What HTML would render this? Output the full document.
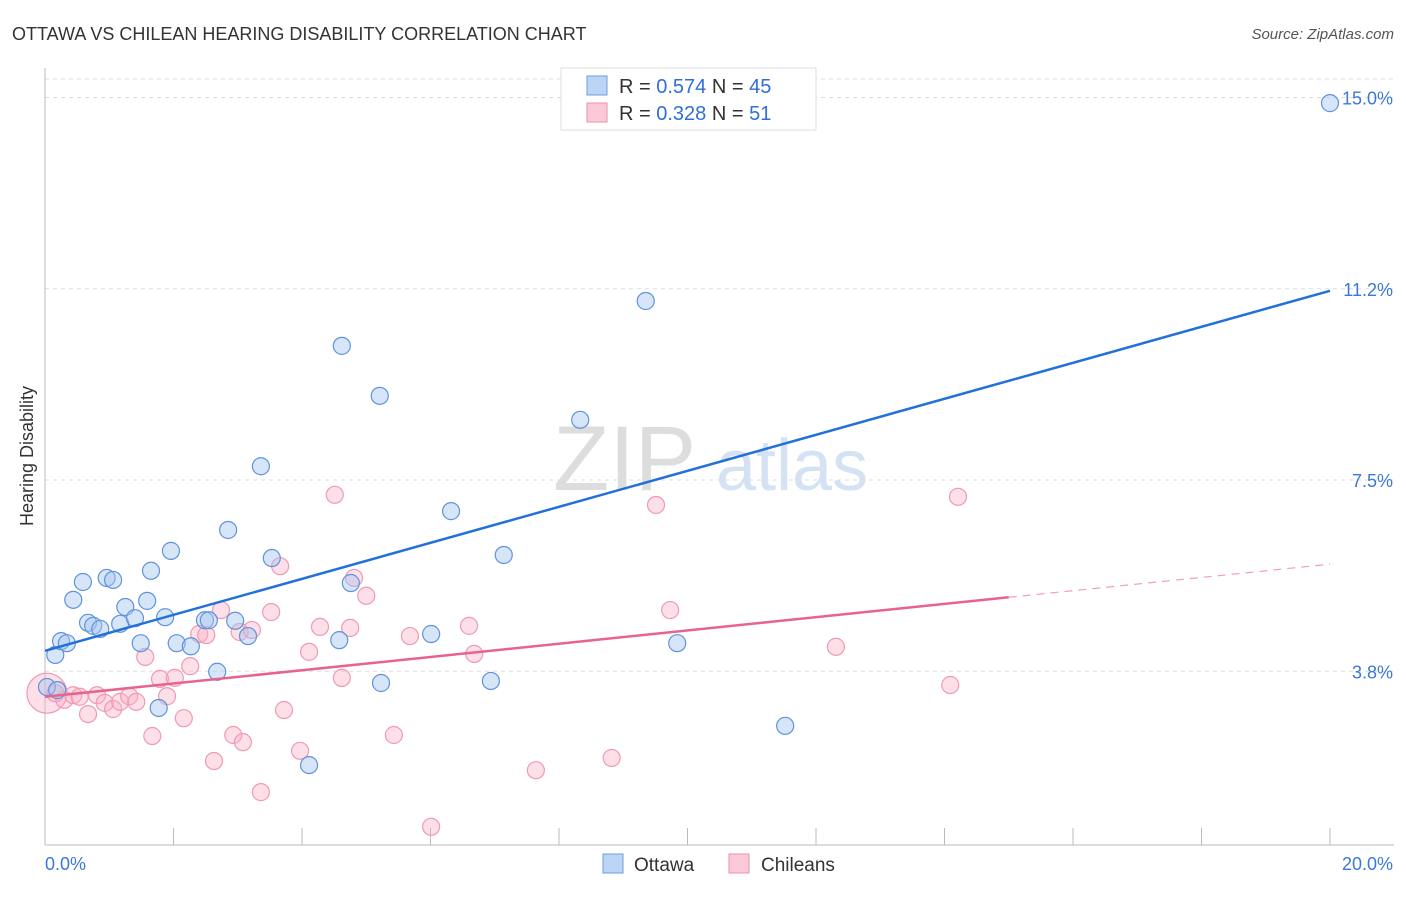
<!DOCTYPE html>
<html><head><meta charset="utf-8"><style>
body{margin:0;background:#fff;font-family:"Liberation Sans",sans-serif;}
svg text{font-family:"Liberation Sans",sans-serif;}
</style></head><body>
<svg id="chart" width="1406" height="892" viewBox="0 0 1406 892">
<text x="12" y="40" font-size="18" fill="#333">OTTAWA VS CHILEAN HEARING DISABILITY CORRELATION CHART</text>
<text x="1394" y="39" font-size="15" fill="#555" text-anchor="end" font-style="italic">Source: ZipAtlas.com</text>
<g>
<text x="553" y="490" font-size="92" fill="#ddd" font-family="Liberation Serif,serif">ZIP</text>
<text x="716" y="490" font-size="72" fill="#d4e2f3">atlas</text>
</g>
<g id="grid"></g>
<line x1="45" y1="68" x2="45" y2="845" stroke="#bbb"/>
<line x1="45" y1="845" x2="1394" y2="845" stroke="#bbb"/>
<g id="xticks"></g>
<text transform="translate(33,456) rotate(-90)" font-size="18" fill="#333" text-anchor="middle">Hearing Disability</text>
<text x="45" y="870" font-size="18" fill="#3b78d8">0.0%</text>
<text x="1393" y="870" font-size="18" fill="#3b78d8" text-anchor="end">20.0%</text>
<g id="points"></g>
<g id="lines"></g>
<g>
<rect x="561" y="68" width="255" height="62" fill="#fff" stroke="#ddd"/>
<rect x="587" y="76" width="20" height="19" fill="#bcd5f5" stroke="#6a9ee0"/>
<rect x="587" y="103" width="20" height="19" fill="#fcc9d8" stroke="#ec8fab"/>
<text x="619" y="93" font-size="20" fill="#333">R = <tspan fill="#2f6fd6">0.574</tspan>   N = <tspan fill="#2f6fd6">45</tspan></text>
<text x="619" y="120" font-size="20" fill="#333">R = <tspan fill="#2f6fd6">0.328</tspan>   N =  <tspan fill="#2f6fd6">51</tspan></text>
</g>
<g>
<rect x="603" y="854" width="20" height="19" fill="#bcd5f5" stroke="#6a9ee0"/>
<text x="634" y="871" font-size="19" fill="#333">Ottawa</text>
<rect x="729" y="854" width="20" height="19" fill="#fcc9d8" stroke="#ec8fab"/>
<text x="761" y="871" font-size="19" fill="#333">Chileans</text>
</g>
</svg>
<script>
const yTicks=[3.8,7.5,11.2,15.0];
const yTickVals=[3.75,7.5,11.25,15];
const ottawaX=[0.16,0.25,0.34,0.44,0.59,0.67,0.75,0.86,0.96,1.06,1.17,1.25,1.40,1.49,1.59,1.65,1.77,1.87,1.96,2.05,2.27,2.49,2.55,2.68,2.85,2.96,3.16,3.36,3.53,4.11,4.58,4.62,4.76,5.21,5.23,6.01,6.32,6.94,7.14,8.33,9.35,9.84,11.52,20.0,0.03,0.19];
const ottawaY=[4.07,4.34,4.30,5.15,5.50,4.70,4.64,4.58,5.58,5.54,4.68,5.01,4.79,4.30,5.13,5.72,3.03,4.81,6.11,4.30,4.24,4.75,4.75,3.74,6.52,4.74,4.44,7.77,5.97,1.91,4.36,10.13,5.48,9.15,3.52,4.48,6.89,3.56,6.03,8.68,11.01,4.30,2.68,14.89,3.44,3.38];
const chileX=[0.03,0.16,0.30,0.44,0.54,0.67,0.81,0.93,1.06,1.17,1.31,1.42,1.56,1.67,1.79,1.90,2.02,2.16,2.26,2.40,2.51,2.63,2.74,2.93,3.03,3.08,3.22,3.36,3.52,3.66,3.72,3.97,4.11,4.28,4.51,4.62,4.75,4.81,5.00,5.43,5.68,6.01,6.60,6.68,7.64,8.82,9.51,9.73,12.31,14.09,14.21];
const chileY=[3.32,3.32,3.19,3.28,3.25,2.91,3.28,3.13,3.01,3.15,3.26,3.15,4.03,2.48,3.60,3.26,3.62,2.83,3.85,4.48,4.46,1.99,4.95,2.50,4.52,2.36,4.56,1.38,4.91,5.81,2.99,2.19,4.13,4.62,7.21,3.62,4.60,5.58,5.23,2.50,4.44,0.70,4.64,4.09,1.81,2.05,7.01,4.95,4.23,3.48,7.17];
const ottawaLine=[4.15,11.21];
const chileLine=[3.25,5.85];
const chileSolidEnd=15.0;
const NS='http://www.w3.org/2000/svg';
const sx=v=>45+v/20*1285;
const sy=v=>862.5-v*51;
function mk(tag,attrs,parent){const e=document.createElementNS(NS,tag);for(const k in attrs)e.setAttribute(k,attrs[k]);parent.appendChild(e);return e;}
const grid=document.getElementById('grid');
mk('line',{x1:45,y1:79,x2:1394,y2:79,stroke:'#ddd','stroke-dasharray':'4,4'},grid);
yTickVals.forEach((v,i)=>{
 const l=mk('line',{x1:45,y1:sy(v),x2:1394,y2:sy(v),stroke:'#ddd','stroke-dasharray':'4,4'},grid);
 
 
 const t=mk('text',{x:1393,y:sy(v)+7,'font-size':18,fill:'#3b78d8','text-anchor':'end'},grid);
 
 
 t.textContent=yTicks[i].toFixed(1)+'%';
});
const xt=document.getElementById('xticks');
for(let i=0;i<=10;i++){
 const l=mk('line',{x1:sx(i*2),y1:828,x2:sx(i*2),y2:845,stroke:'#bbb'},xt);
 
 
}
const pts=document.getElementById('points');
chileX.forEach((x,i)=>{
 const c=mk('circle',{cx:sx(x),cy:sy(chileY[i]),r:i===0?20:8.5,fill:'rgba(249,175,198,0.4)',stroke:'#ef9ab4','stroke-width':1.2},pts);
 
 
});
ottawaX.forEach((x,i)=>{
 const c=mk('circle',{cx:sx(x),cy:sy(ottawaY[i]),r:8.5,fill:'rgba(166,198,240,0.45)',stroke:'#5f93dc','stroke-width':1.2},pts);
 
 
});
const ln=document.getElementById('lines');
const bl=mk('line',{x1:sx(0),y1:sy(ottawaLine[0]),x2:sx(20),y2:sy(ottawaLine[1]),stroke:'#2271d9','stroke-width':2.5},ln);


const cy=x=>chileLine[0]+(chileLine[1]-chileLine[0])*x/20;
const pl=mk('line',{x1:sx(0),y1:sy(cy(0)),x2:sx(chileSolidEnd),y2:sy(cy(chileSolidEnd)),stroke:'#e8628f','stroke-width':2.5},ln);


const pd=mk('line',{x1:sx(chileSolidEnd),y1:sy(cy(chileSolidEnd)),x2:sx(20),y2:sy(cy(20)),stroke:'#eea0b8','stroke-width':1.2,'stroke-dasharray':'8,6'},ln);


</script>
</body></html>
